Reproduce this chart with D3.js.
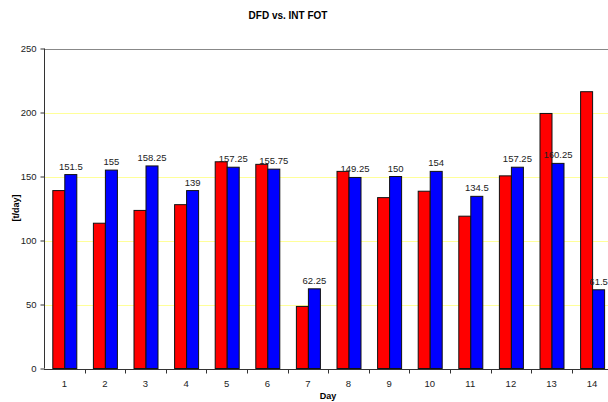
<!DOCTYPE html>
<html>
<head>
<meta charset="utf-8">
<script src="https://cdn.jsdelivr.net/npm/d3@7"></script>
<style>
  html, body { margin: 0; padding: 0; background: #fff; }
  svg { display: block; font-family: Arial, "Liberation Sans", sans-serif; }
</style>
</head>
<body>
<svg id="chart" width="608" height="402"></svg>
<script>
// Days on the x axis
const days = ["1","2","3","4","5","6","7","8","9","10","11","12","13","14"];
// DFD series (red)
const dfd = [139, 113.5, 123.5, 128, 161.5, 159.5, 48.5, 154, 133.5, 138.5, 119, 150.5, 199.25, 216.25];
// INT FOT series (blue), labelled with its values
const intFot = [151.5, 155, 158.25, 139, 157.25, 155.75, 62.25, 149.25, 150, 154, 134.5, 157.25, 160.25, 61.5];
// Y axis ticks
const yTicks = [0, 50, 100, 150, 200, 250];
const seriesNames = ["DFD", "INT FOT"];
const seriesColors = ["#ff0000", "#0000ff"];

const svg = d3.select("#chart");
const plotLeft = 44, plotTop = 48.5, plotBottom = 368.5;
const band = 40.6;
const plotRight = plotLeft + band * days.length;

const x = d3.scaleBand().domain(days).range([plotLeft, plotRight]).paddingInner(0).paddingOuter(0);
const y = d3.scaleLinear().domain([0, 250]).range([plotBottom, plotTop]);
const inner = d3.scaleBand().domain(seriesNames).range([0, 24]);
const groupOffset = (x.bandwidth() - 24) / 2;

// Title
svg.append("text")
  .attr("x", 288).attr("y", 19)
  .attr("text-anchor", "middle")
  .attr("font-size", 10).attr("font-weight", "bold")
  .attr("fill", "#000")
  .text("DFD vs. INT FOT");

// Horizontal gridlines
svg.append("g").selectAll("line")
  .data(yTicks.filter(d => d > 0 && d < 250))
  .join("line")
  .attr("x1", plotLeft).attr("x2", 608)
  .attr("y1", d => Math.round(y(d)) + 0.5).attr("y2", d => Math.round(y(d)) + 0.5)
  .attr("stroke", "#ffff99").attr("stroke-width", 1);

// Top border of the plot area
svg.append("line")
  .attr("x1", plotLeft).attr("x2", 608)
  .attr("y1", Math.round(y(250)) + 0.5).attr("y2", Math.round(y(250)) + 0.5)
  .attr("stroke", "#888").attr("stroke-width", 1);

// Bars
const rows = days.map((d, i) => ({ day: d, vals: [dfd[i], intFot[i]] }));
const groups = svg.append("g").selectAll("g")
  .data(rows).join("g")
  .attr("transform", d => `translate(${x(d.day) + groupOffset},0)`);

groups.selectAll("rect")
  .data(d => d.vals.map((v, k) => ({ name: seriesNames[k], v, k })))
  .join("rect")
  .attr("x", d => inner(d.name) + 0.5)
  .attr("y", d => y(d.v))
  .attr("width", inner.bandwidth())
  .attr("height", d => y(0) - y(d.v))
  .attr("fill", d => seriesColors[d.k])
  .attr("stroke", "#111").attr("stroke-width", 1);

// Value labels above the INT FOT bars
groups.append("text")
  .attr("x", inner("INT FOT") + inner.bandwidth() / 2 + 0.5)
  .attr("y", d => y(d.vals[1]) - 5)
  .attr("text-anchor", "middle")
  .attr("font-size", 9.5)
  .attr("fill", "#222")
  .text(d => d.vals[1]);

// Y axis
const yAxis = d3.axisLeft(y).tickValues(yTicks).tickSize(4).tickPadding(4);
const gy = svg.append("g").attr("transform", `translate(${plotLeft + 0.5},0)`).call(yAxis);
gy.select(".domain").attr("stroke", "#333").attr("d", `M0,${plotTop}V${plotBottom}`);
gy.selectAll(".tick line").attr("stroke", "#333");
gy.selectAll(".tick text").attr("font-size", 9.5).attr("fill", "#222").attr("font-family", "Arial, 'Liberation Sans', sans-serif");

// X axis with ticks on category boundaries
const gx = svg.append("g").attr("transform", `translate(0,${Math.round(plotBottom) + 0.5})`);
gx.append("line").attr("x1", plotLeft).attr("x2", 608).attr("stroke", "#333");
gx.selectAll(".bt").data(days).join("line").attr("class", "bt")
  .attr("x1", d => Math.round(x(d) + x.bandwidth()) + 0.5)
  .attr("x2", d => Math.round(x(d) + x.bandwidth()) + 0.5)
  .attr("y1", 0).attr("y2", 4).attr("stroke", "#333");
gx.selectAll(".lbl").data(days).join("text").attr("class", "lbl")
  .attr("x", d => x(d) + x.bandwidth() / 2)
  .attr("y", 17)
  .attr("text-anchor", "middle")
  .attr("font-size", 9.5).attr("fill", "#222")
  .text(d => d);

// Axis titles
svg.append("text")
  .attr("x", 328).attr("y", 399)
  .attr("text-anchor", "middle")
  .attr("font-size", 9).attr("font-weight", "bold")
  .text("Day");

svg.append("text")
  .attr("transform", "translate(19,208) rotate(-90)")
  .attr("text-anchor", "middle")
  .attr("font-size", 9).attr("font-weight", "bold")
  .text("[t/day]");
</script>
</body>
</html>
